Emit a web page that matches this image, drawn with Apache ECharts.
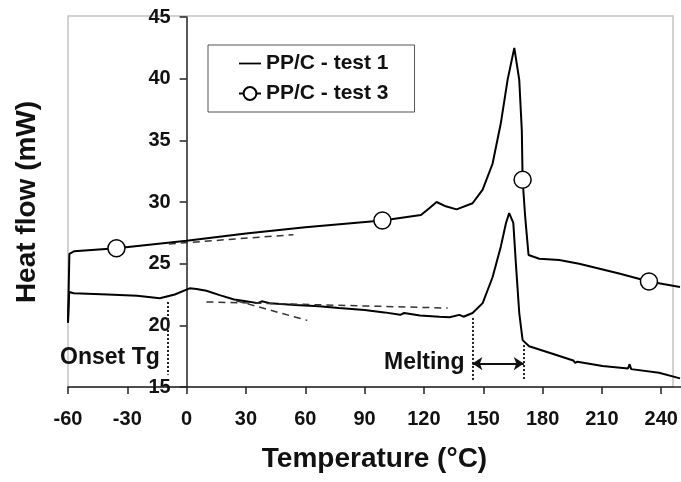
<!DOCTYPE html>
<html>
<head>
<meta charset="utf-8">
<script src="https://cdn.jsdelivr.net/npm/echarts@6/dist/echarts.min.js"></script>
<style>
  html, body { margin: 0; padding: 0; background: #fff; }
  #chart { width: 681px; height: 482px; }
</style>
</head>
<body>
<div id="chart"></div>
<script>
// test 3 (upper curve, with circle markers)
const test3Temps = [-60, -59.3, -57, -35.5, 0, 30, 60, 99, 118.5, 122.7, 126.4, 131, 136.5, 144.6, 149.7, 154.7, 158.9, 162.3, 165.7, 168.2, 169.5, 169.9, 171.2, 172.9, 178.3, 188.4, 198.5, 218.7, 233.8, 249.5]
const test3Flow = [20.3, 25.8, 26.0, 26.25, 26.85, 27.45, 27.95, 28.5, 28.95, 29.5, 30.0, 29.65, 29.4, 29.9, 31.0, 33.1, 36.4, 39.9, 42.5, 39.9, 35.8, 31.8, 28.8, 25.7, 25.4, 25.3, 25.0, 24.2, 23.55, 23.1]
const test3Markers = [-35.5, 99, 169.9, 233.8]

// test 1 (lower curve)
const test1Temps = [-60, -59.4, -57, -40, -25, -13.6, -6, 1.5, 5, 10, 16.7, 24, 30, 36, 38, 42, 55, 67, 77, 90, 100, 108, 110, 118, 127.8, 133, 137.9, 140, 144.6, 149.7, 154.7, 158.9, 161.5, 163.1, 165.2, 166.5, 168.2, 169.9, 173.2, 185, 195.5, 196.5, 197.6, 210.3, 223.2, 224, 224.8, 238.9, 249.5]
const test1Flow = [20.2, 22.7, 22.6, 22.5, 22.4, 22.2, 22.5, 23.0, 22.95, 22.8, 22.45, 22.1, 21.95, 21.8, 21.95, 21.8, 21.65, 21.55, 21.4, 21.25, 21.05, 20.85, 21.0, 20.8, 20.7, 20.65, 20.85, 20.7, 21.0, 21.8, 23.9, 26.4, 28.3, 29.1, 28.3, 25.0, 21.0, 18.8, 18.3, 17.7, 17.15, 16.95, 17.05, 16.7, 16.5, 16.85, 16.45, 16.15, 15.7]

// tangent (dashed) and marker (dotted) lines, [x1, y1, x2, y2]
const dashedLines = [[-9, 26.6, 54, 27.35], [10, 21.9, 132, 21.4], [25, 22.0, 61, 20.4]]
const dottedLines = [[-9.6, 21.9, -9.6, 16.0], [144.5, 20.6, 144.5, 15.5], [170.5, 18.4, 170.5, 15.5]]
const meltArrow = [144.5, 16.9, 170.5, 16.9]

const notes = [['Onset Tg', -13.6, 17.4], ['Melting', 140.5, 16.95]]

const xTicks = { min: -60, max: 250, step: 30 }
const yTicks = { min: 15, max: 45, step: 5 }

const font = 'Liberation Sans'
const gridLeft = 68
const gridWidth = 681 - gridLeft
// the y axis crosses at 0 °C
const yAxisShift = -(0 - xTicks.min) / (xTicks.max - xTicks.min) * gridWidth

const zip = (xs, ys) => xs.map((x, i) => [x, ys[i]])
const seg = (l, style, sym) => [
  { coord: [l[0], l[1]], symbol: sym || 'none' },
  { coord: [l[2], l[3]], symbol: sym || 'none', lineStyle: style }
]

const chart = echarts.init(document.getElementById('chart'))

const axisCommon = {
  axisLine: { onZero: false, lineStyle: { color: '#222', width: 1.5 } },
  axisTick: { length: 7, lineStyle: { color: '#222', width: 1.5 } },
  splitLine: { show: false },
  nameTextStyle: { fontFamily: font, fontWeight: 'bold', fontSize: 28, color: '#111' }
}

const markLines = []
dashedLines.forEach(l => markLines.push(seg(l, { type: [7, 5], width: 1.5, color: '#333' })))
dottedLines.forEach(l => markLines.push(seg(l, { type: [2, 2], width: 2, color: '#222' })))
markLines.push(seg(meltArrow, { type: 'solid', width: 2, color: '#111' }, 'arrow'))

chart.setOption({
  animation: false,
  backgroundColor: '#fff',
  grid: { left: gridLeft, right: 0, top: 17, bottom: 95, containLabel: false, outerBoundsMode: 'none' },
  graphic: [{
    type: 'rect', z: -10,
    shape: { x: 68, y: 16, width: 605, height: 371 },
    style: { fill: 'none', stroke: '#c4c4c4', lineWidth: 1.5 }
  }],
  legend: {
    orient: 'vertical',
    left: 208, top: 45,
    padding: [8, 26, 8, 30],
    itemGap: 9,
    itemWidth: 22,
    itemHeight: 16,
    borderColor: '#555',
    borderWidth: 1,
    textStyle: { fontFamily: font, fontWeight: 'bold', fontSize: 21, color: '#111' },
    data: [
      { name: 'PP/C - test 1', icon: 'path://M0,0 L25,0 L25,2 L0,2 Z', itemStyle: { color: '#000' } },
      { name: 'PP/C - test 3' }
    ]
  },
  xAxis: Object.assign({}, axisCommon, {
    type: 'value',
    min: xTicks.min, max: xTicks.max, interval: xTicks.step,
    name: 'Temperature (°C)', nameLocation: 'middle', nameGap: 58,
    axisLabel: { showMaxLabel: false, margin: 22, fontFamily: font, fontWeight: 'bold', fontSize: 20, color: '#111' }
  }),
  yAxis: Object.assign({}, axisCommon, {
    type: 'value',
    min: yTicks.min, max: yTicks.max, interval: yTicks.step,
    offset: yAxisShift,
    name: 'Heat flow (mW)', nameLocation: 'middle', nameGap: 145,
    axisLabel: { margin: 16, fontFamily: font, fontWeight: 'bold', fontSize: 20, color: '#111' }
  }),
  series: [
    {
      name: 'PP/C - test 1',
      type: 'line',
      data: zip(test1Temps, test1Flow),
      symbol: 'none',
      silent: true,
      lineStyle: { color: '#000', width: 2 },
      itemStyle: { color: '#000' },
      markLine: {
        silent: true,
        symbolSize: 10,
        label: { show: false },
        data: markLines
      },
      markPoint: {
        silent: true,
        symbol: 'circle',
        symbolSize: 0,
        label: {
          show: true, position: 'left', distance: 0, formatter: '{b}',
          fontFamily: font, fontWeight: 'bold', fontSize: 23, color: '#111'
        },
        data: notes.map(n => ({ name: n[0], coord: [n[1], n[2]] }))
      }
    },
    {
      name: 'PP/C - test 3',
      type: 'line',
      data: zip(test3Temps, test3Flow),
      symbol: v => test3Markers.includes(v[0]) ? 'circle' : 'none',
      symbolSize: 17,
      showAllSymbol: true,
      silent: true,
      z: 3,
      lineStyle: { color: '#000', width: 2 },
      itemStyle: { color: '#fff', borderColor: '#000', borderWidth: 1.5 }
    }
  ]
})
</script>
</body>
</html>
